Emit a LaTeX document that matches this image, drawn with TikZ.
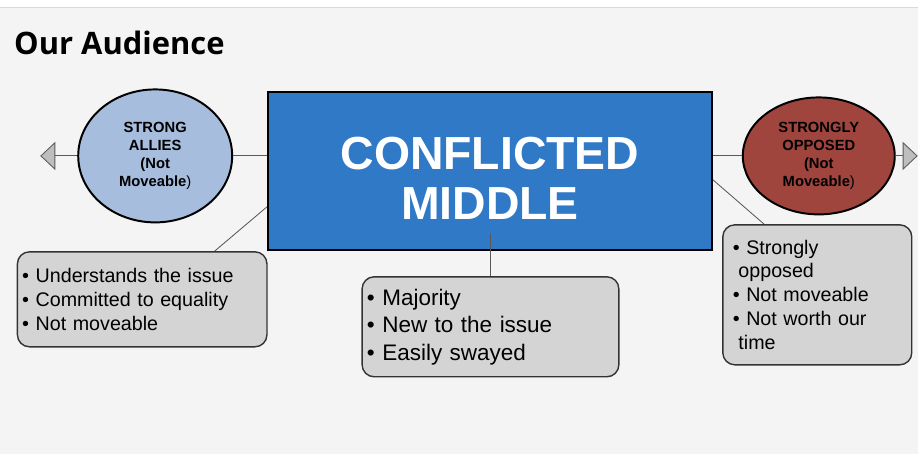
\documentclass[tikz,border=0pt]{standalone}
\usepackage{fontspec}
\setmainfont{Liberation Sans}
\newfontfamily\titlefont{Open Sans}
\usepackage{tikz}
\usetikzlibrary{positioning,shapes.geometric,arrows.meta,calc}
\definecolor{slidebg}{RGB}{244,244,244}
\definecolor{midblue}{RGB}{47,121,198}
\definecolor{allyblue}{RGB}{167,189,221}
\definecolor{opposedred}{RGB}{160,68,62}
\definecolor{boxgray}{RGB}{212,212,212}
\definecolor{tipgray}{RGB}{190,190,190}
\tikzstyle{bullets} = [draw=black!80, fill=boxgray, rounded corners=0.3cm, line width=1pt, align=left, font=\fontsize{14}{17}\selectfont, inner sep=0.12cm]
\tikzstyle{link} = [draw=black!65, line width=0.6pt]

\begin{document}
\begin{tikzpicture}[x=0.025cm, y=-0.025cm, E/.style = {ellipse, draw=black, line width=1.4pt, fill=#1, align=center, inner sep=0pt, font=\bfseries\fontsize{10.5}{13}\selectfont},
    E/.default=allyblue]
    \fill[slidebg] (0,0) rectangle (918,454);
    \fill[white] (0,0) rectangle (918,7);
    \draw[black!15] (0,7) -- (918,7);
    \useasboundingbox (0,0) rectangle (918,454);

    \node (title) [anchor=base west, font=\titlefont\bfseries\fontsize{22}{26}\selectfont] at (9,55) {Our Audience};

    \node (cm) [draw=black, line width=1.6pt, fill=midblue, minimum width=11.1cm, minimum height=3.95cm, text=white, align=center, font=\bfseries\fontsize{33}{35.5}\selectfont] at (490,171) {\rule{0pt}{33pt}CONFLICTED\\MIDDLE};
    \node (allies) [E, minimum width=3.85cm, minimum height=3.325cm] at (155,156) {STRONG\\ALLIES\\(Not\\Moveable\textmd{)}};
    \node (opposed) [E=opposedred, minimum width=3.8cm, minimum height=2.925cm] at (819,156) {STRONGLY\\OPPOSED\\(Not\\Moveable\textmd{)}};

    \node (lbox) [bullets, minimum height=2.375cm, text width=6.0cm] at (142,299.5) {• Understands the issue\\• Committed to equality\\• Not moveable};
    \node (mbox) [bullets, minimum height=2.5cm, text width=6.18cm, font=\fontsize{16}{19.5}\selectfont] at (490.5,327) {• Majority\\• New to the issue\\• Easily swayed};
    \node (rbox) [bullets, minimum height=3.5cm, inner xsep=0.25cm, text width=4.225cm] at (817.5,295) {• Strongly\\\hspace*{4pt}opposed\\• Not moveable\\• Not worth our\\\hspace*{4pt}time};

    \coordinate (lend) at (40,156);
    \coordinate (rend) at (918,156);
    \draw[link, -{Triangle[length=0.375cm, width=0.7cm, fill=tipgray]}] (allies.west) -- (lend);
    \draw[link, -{Triangle[length=0.375cm, width=0.7cm, fill=tipgray]}] (opposed.east) -- (rend);
    \draw[link] (allies.east) -- (allies.east -| cm.west);
    \draw[link] (opposed.west -| cm.east) -- (opposed.west);
    % bullet boxes
    \draw[link] ($(lbox.north west)+(198,0)$) -- ($(cm.west)+(0,36)$);
    \draw[link] (mbox.north) -- ($(mbox.north |- cm.south)+(0,-18)$);
    \draw[link] ($(cm.east)+(0,9)$) -- ($(rbox.north west)+(42,0)$);
\end{tikzpicture}
\end{document}
